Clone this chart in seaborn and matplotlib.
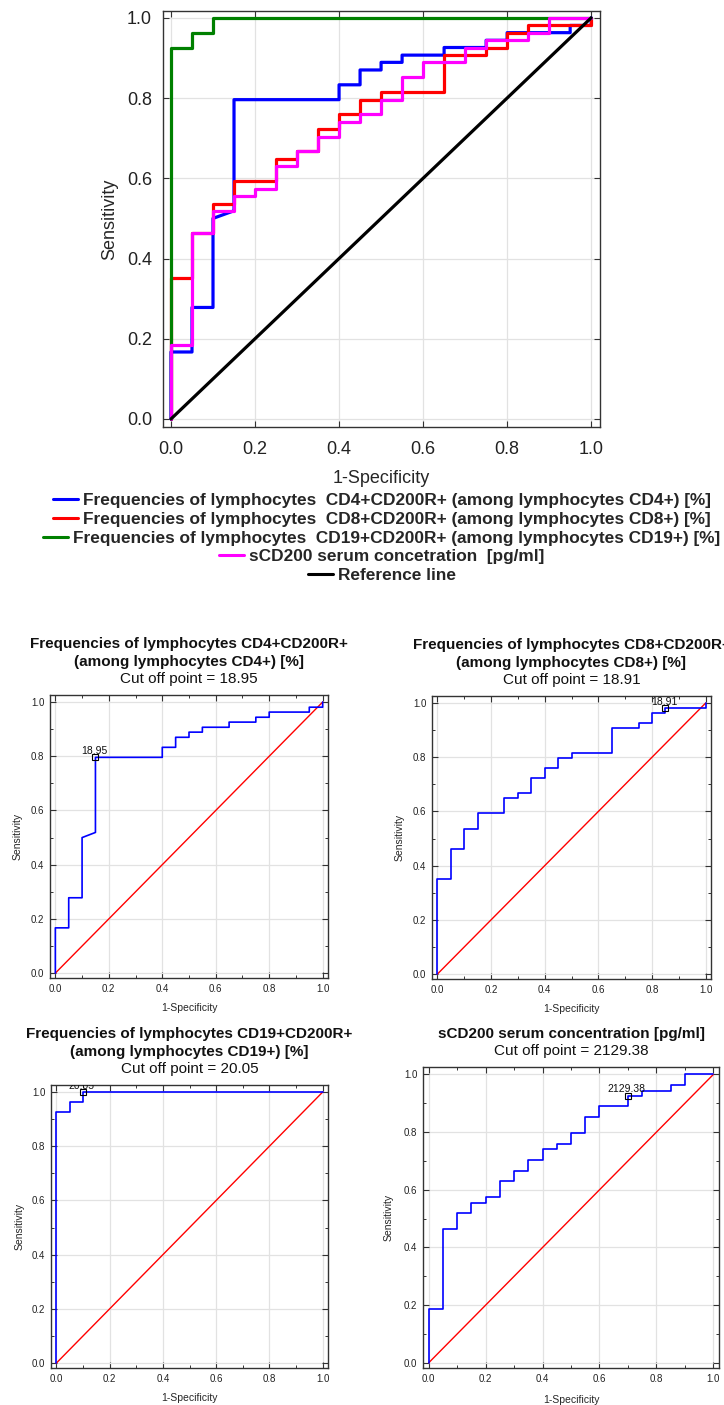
import seaborn as sns
import matplotlib.pyplot as plt
from matplotlib.lines import Line2D
from matplotlib.ticker import MultipleLocator

# ROC vertices: 1-specificity (fpr) and sensitivity (tpr)
cd4_fpr = [0, 0, 0.05, 0.05, 0.10, 0.10, 0.15, 0.15, 0.40, 0.40, 0.45, 0.45, 0.50,
           0.50, 0.55, 0.55, 0.65, 0.65, 0.75, 0.75, 0.80, 0.80, 0.95, 0.95, 1.0, 1.0]
cd4_tpr = [0, 0.167, 0.167, 0.278, 0.278, 0.500, 0.519, 0.796, 0.796, 0.833, 0.833,
           0.870, 0.870, 0.889, 0.889, 0.907, 0.907, 0.926, 0.926, 0.944, 0.944,
           0.963, 0.963, 0.981, 0.981, 1.0]

cd8_fpr = [0, 0, 0.05, 0.05, 0.10, 0.10, 0.15, 0.15, 0.25, 0.25, 0.30, 0.30, 0.35,
           0.35, 0.40, 0.40, 0.45, 0.45, 0.50, 0.50, 0.65, 0.65, 0.75, 0.75, 0.80,
           0.80, 0.85, 0.85, 1.0, 1.0]
cd8_tpr = [0, 0.352, 0.352, 0.463, 0.463, 0.537, 0.537, 0.593, 0.593, 0.648, 0.648,
           0.667, 0.667, 0.722, 0.722, 0.759, 0.759, 0.796, 0.796, 0.815, 0.815,
           0.907, 0.907, 0.926, 0.926, 0.963, 0.963, 0.981, 0.981, 1.0]

cd19_fpr = [0, 0, 0.05, 0.05, 0.10, 0.10, 1.0]
cd19_tpr = [0, 0.926, 0.926, 0.963, 0.963, 1.0, 1.0]

scd_fpr = [0, 0, 0.05, 0.05, 0.10, 0.10, 0.15, 0.15, 0.20, 0.20, 0.25, 0.25, 0.30,
           0.30, 0.35, 0.35, 0.40, 0.40, 0.45, 0.45, 0.50, 0.50, 0.55, 0.55, 0.60,
           0.60, 0.70, 0.70, 0.75, 0.75, 0.85, 0.85, 0.90, 0.90, 1.0]
scd_tpr = [0, 0.185, 0.185, 0.463, 0.463, 0.519, 0.519, 0.556, 0.556, 0.574, 0.574,
           0.630, 0.630, 0.667, 0.667, 0.704, 0.704, 0.741, 0.741, 0.759, 0.759,
           0.796, 0.796, 0.852, 0.852, 0.889, 0.889, 0.926, 0.926, 0.944, 0.944,
           0.963, 0.963, 1.0, 1.0]

ref_x = [0, 1]
ref_y = [0, 1]

legend_labels = [
    "Frequencies of lymphocytes  CD4+CD200R+ (among lymphocytes CD4+) [%]",
    "Frequencies of lymphocytes  CD8+CD200R+ (among lymphocytes CD8+) [%]",
    "Frequencies of lymphocytes  CD19+CD200R+ (among lymphocytes CD19+) [%]",
    "sCD200 serum concetration  [pg/ml]",
    "Reference line",
]
colors = ["#0000ff", "#ff0000", "#008000", "#ff00ff", "#000000"]

panel_titles = [
    ["Frequencies of lymphocytes CD4+CD200R+", "(among lymphocytes CD4+) [%]"],
    ["Frequencies of lymphocytes CD8+CD200R+", "(among lymphocytes CD8+) [%]"],
    ["Frequencies of lymphocytes CD19+CD200R+", "(among lymphocytes CD19+) [%]"],
    ["sCD200 serum concentration [pg/ml]"],
]
cutoff_labels = ["18.95", "18.91", "20.05", "2129.38"]
cutoff_x = [0.15, 0.85, 0.10, 0.70]
cutoff_y = [0.796, 0.981, 1.0, 0.926]

sns.set_style("whitegrid")
plt.rcParams['font.family'] = ['Liberation Sans', 'DejaVu Sans']

W, H = 724, 1405
fig = plt.figure(figsize=(W / 100, H / 100), dpi=100)


def add_axes(left, top, right, bottom):
    return fig.add_axes([left / W, 1 - bottom / H, (right - left) / W, (bottom - top) / H])


def style_axes(ax, tick_size, pad, minor=False):
    ax.grid(True, color="#e2e2e2", lw=0.9)
    for s in ax.spines.values():
        s.set_visible(True)
        s.set_color("#333333")
        s.set_linewidth(1.0)
    ax.xaxis.set_major_locator(MultipleLocator(0.2))
    ax.yaxis.set_major_locator(MultipleLocator(0.2))
    ax.tick_params(which="major", direction="in", length=4, width=0.8, color="#333333",
                   top=True, right=True, bottom=True, left=True,
                   labelsize=tick_size, pad=pad, labelcolor="#222222")
    if minor:
        ax.xaxis.set_minor_locator(MultipleLocator(0.1))
        ax.yaxis.set_minor_locator(MultipleLocator(0.1))
        ax.tick_params(which="minor", direction="in", length=2.5, width=0.7, color="#333333",
                       top=True, right=True, bottom=True, left=True)
        ax.grid(False, which="minor")
    ax.xaxis.set_major_formatter(plt.FuncFormatter(lambda v, p: f"{v:.1f}"))
    ax.yaxis.set_major_formatter(plt.FuncFormatter(lambda v, p: f"{v:.1f}"))


# ---- combined ROC chart ----
ax = add_axes(163, 11, 600, 427)
series = [(cd4_fpr, cd4_tpr), (cd8_fpr, cd8_tpr), (cd19_fpr, cd19_tpr),
          (scd_fpr, scd_tpr), (ref_x, ref_y)]
for (fx, ty), c in zip(series, colors):
    sns.lineplot(x=fx, y=ty, sort=False, estimator=None, color=c, lw=2.3, ax=ax)
ax.set_xlim(-0.019, 1.021)
ax.set_ylim(-0.02, 1.017)
style_axes(ax, 13, 8)
ax.tick_params(axis="x", pad=10)
ax.set_xlabel("1-Specificity", fontsize=13)
ax.xaxis.set_label_coords(0.5, -0.123)
ax.xaxis.label.set_va("center")
ax.set_ylabel("Sensitivity", fontsize=13)
ax.yaxis.set_label_coords(-0.121, 0.5)
ax.yaxis.label.set_va("center")

legend_cy = [500, 519, 538, 556, 575]
for lab, c, cy in zip(legend_labels, colors, legend_cy):
    fig.legend(handles=[Line2D([], [], color=c, lw=2.2)], labels=[lab],
               loc="center", bbox_to_anchor=(382 / W, 1 - cy / H), frameon=False,
               prop={"weight": "bold", "size": 12.4}, handlelength=1.45,
               handletextpad=0.3, borderpad=0, borderaxespad=0)

# ---- individual panels ----
panel_boxes = [(50, 695, 328, 978), (432, 696, 711, 979),
               (51, 1085, 328, 1368), (423, 1067, 719, 1368)]
panel_series = [(cd4_fpr, cd4_tpr), (cd8_fpr, cd8_tpr), (cd19_fpr, cd19_tpr),
                (scd_fpr, scd_tpr)]

for i, box in enumerate(panel_boxes):
    pax = add_axes(*box)
    fx, ty = panel_series[i]
    sns.lineplot(x=ref_x, y=ref_y, sort=False, estimator=None, color="#ff0000", lw=1.0, ax=pax)
    sns.lineplot(x=fx, y=ty, sort=False, estimator=None, color="#0000ff", lw=1.2, ax=pax)
    pax.plot(cutoff_x[i], cutoff_y[i], marker="s", ms=4.5, mfc="none", mec="black",
             mew=0.8, clip_on=False, zorder=5)
    lbl = pax.annotate(cutoff_labels[i], xy=(cutoff_x[i], cutoff_y[i]), xytext=(-1, 1.0),
                       textcoords="offset points", ha="center", va="bottom", fontsize=7.5,
                       color="#111111")
    lbl.set_clip_box(pax.bbox)
    lbl.set_clip_on(True)
    pax.set_xlim(-0.02, 1.02)
    pax.set_ylim(-0.018, 1.026)
    style_axes(pax, 7, 4, minor=True)
    pax.set_xlabel("1-Specificity", fontsize=7.5)
    pax.xaxis.set_label_coords(0.5, -0.105)
    pax.xaxis.label.set_va("center")
    pax.set_ylabel("Sensitivity", fontsize=7.5)
    pax.yaxis.set_label_coords(-0.115, 0.5)
    pax.yaxis.label.set_va("center")

    lines = panel_titles[i] + [f"Cut off point = {cutoff_labels[i]}"]
    offsets = [11.5 + 12.5 * k for k in range(len(lines))][::-1]
    for k, (txt, off) in enumerate(zip(lines, offsets)):
        bold = k < len(lines) - 1
        pax.annotate(txt, xy=(0.5, 1), xycoords="axes fraction", xytext=(0, off),
                     textcoords="offset points", ha="center", va="center",
                     fontsize=11, fontweight="bold" if bold else "normal", color="#111111")

fig.savefig("out.png", dpi=100)
